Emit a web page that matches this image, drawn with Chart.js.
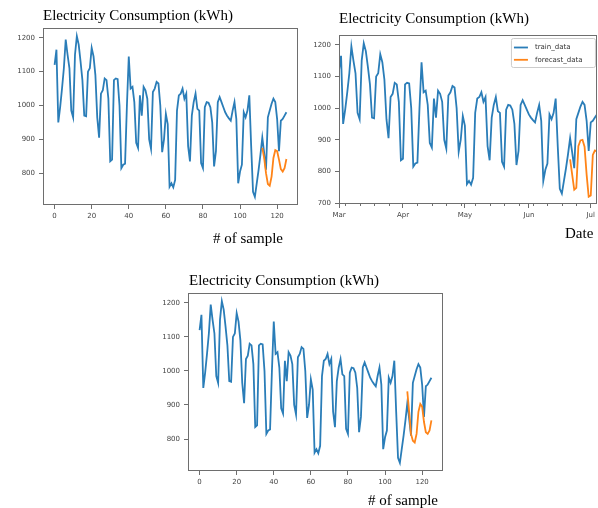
<!DOCTYPE html>
<html>
<head>
<meta charset="utf-8">
<script src="https://cdn.jsdelivr.net/npm/chart.js@4.4.1/dist/chart.umd.min.js"></script>
<style>
  html, body { margin: 0; padding: 0; background: #ffffff; }
  #wrap { position: relative; width: 598px; height: 508px; background: #ffffff; overflow: hidden; }
  .box { position: absolute; }
  .txt { position: absolute; font-family: "Liberation Serif", "Times New Roman", serif; font-size: 15px; line-height: 15px; color: #000; white-space: nowrap; }
</style>
</head>
<body>
<div id="wrap">
  <div class="box" style="left:0px;top:0px;width:300px;height:250px;"><canvas id="c1" width="300" height="250"></canvas></div>
  <div class="box" style="left:300px;top:0px;width:298px;height:250px;"><canvas id="c2" width="298" height="250"></canvas></div>
  <div class="box" style="left:150px;top:260px;width:300px;height:248px;"><canvas id="c3" width="300" height="248"></canvas></div>
  <div class="txt" id="t1" style="left:43px;top:8px;"></div>
  <div class="txt" id="t2" style="left:339px;top:11px;"></div>
  <div class="txt" id="t3" style="left:189px;top:273px;"></div>
  <div class="txt" id="x1" style="left:213px;top:231px;"></div>
  <div class="txt" id="x2" style="left:565px;top:226px;"></div>
  <div class="txt" id="x3" style="left:368px;top:493px;"></div>
</div>
<script>
// ---------------- data ----------------
const chartTitle = "Electricity Consumption (kWh)";
const sampleAxisLabel = "# of sample";
const dateAxisLabel = "Date";
const seriesNames = ["train_data", "forecast_data"];
const startDate = "2018-03-01";

const trainValues = [
  1120, 1165, 950, 995, 1050, 1110, 1195, 1150, 1110, 985,
  965, 1150, 1205, 1180, 1130, 1075, 970, 968, 1100, 1110,
  1170, 1145, 1090, 965, 905, 1035, 1045, 1080, 1075, 1020,
  835, 840, 1075, 1080, 1078, 1000, 815, 825, 828, 1000,
  1145, 1050, 1055, 1010, 890, 875, 1030, 970, 1055, 1045,
  1020, 900, 872, 1040, 1050, 1070, 1065, 1000, 862, 900,
  975, 945, 760, 770, 758, 780, 985, 1030, 1035, 1050,
  1020, 1035, 880, 835, 970, 1010, 1035, 990, 985, 830,
  815, 995, 1010, 1008, 995, 950, 820, 865, 1010, 1025,
  1010, 995, 980, 970, 962, 955, 985, 1010, 960, 770,
  805, 825, 980, 965, 985, 1030, 880, 745, 730, 770,
  810, 855, 905, 860, 810, 965, 985, 1005, 1020, 1010,
  960, 865, 955, 960, 970, 980
];
const forecastStart = 112;
const forecastTop = [875, 845, 800, 768, 763, 790, 845, 868, 865, 840, 812, 805, 815, 842];
const forecastDate = [838, 790, 742, 748, 880, 898, 900, 878, 790, 720, 724, 852, 866, 863];
const forecastBottom = [940, 880, 815, 795, 790, 815, 880, 903, 895, 850, 820, 815, 825, 855];

const sampleTicks = [0, 20, 40, 60, 80, 100, 120];
const yTicksSample = [800, 900, 1000, 1100, 1200];
const yTicksDate = [700, 800, 900, 1000, 1100, 1200];
const monthLabels = ["Mar", "Apr", "May", "Jun", "Jul"];

// ---------------- helpers ----------------
const BLUE = "#2a7db8", ORANGE = "#ff8418", AXIS = "#6e6e6e", TICKTXT = "#444444";
const DAY = 86400000;
const t0 = new Date(startDate + "T00:00:00Z").getTime();
function monthIndex(name) {
  const m = ["Jan","Feb","Mar","Apr","May","Jun","Jul","Aug","Sep","Oct","Nov","Dec"].indexOf(name);
  return Math.round((Date.UTC(2018, m, 1) - t0) / DAY);
}
const monthPos = monthLabels.map(monthIndex);
const weeklyPos = [];
for (let i = 0; i < trainValues.length; i++) {
  const d = new Date(t0 + i * DAY);
  if (d.getUTCDay() === 0) weeklyPos.push(i);
}

const trainPts = trainValues.map((v, i) => ({ x: i, y: v }));
const fc = arr => arr.map((v, k) => ({ x: forecastStart + k, y: v }));

const framePlugin = {
  id: "frame",
  afterDatasetsDraw(chart) {
    const a = chart.chartArea, ctx = chart.ctx;
    ctx.save();
    ctx.strokeStyle = AXIS;
    ctx.lineWidth = 1;
    ctx.strokeRect(Math.round(a.left) + 0.5, Math.round(a.top) + 0.5,
                   Math.round(a.right - a.left) - 1, Math.round(a.bottom - a.top) - 1);
    ctx.restore();
  }
};

function makeChart(id, forecast, opts) {
  const tickFont = { family: "DejaVu Sans", size: 7 };
  return new Chart(document.getElementById(id), {
    type: "line",
    data: {
      datasets: [
        { label: seriesNames[0], data: trainPts, borderColor: BLUE, borderWidth: 1.8, pointRadius: 0, tension: 0, order: 2 },
        { label: seriesNames[1], data: fc(forecast), borderColor: ORANGE, borderWidth: 1.8, pointRadius: 0, tension: 0, order: 1 }
      ]
    },
    options: {
      responsive: false,
      animation: false,
      devicePixelRatio: 1,
      parsing: true,
      layout: { padding: opts.padding },
      plugins: { legend: { display: false }, tooltip: { enabled: false }, title: { display: false } },
      scales: {
        x: {
          type: "linear",
          min: opts.xmin, max: opts.xmax,
          afterBuildTicks: s => { s.ticks = opts.xticks.map(v => ({ value: v })); },
          afterFit: s => { s.height = 20; },
          ticks: { font: tickFont, color: TICKTXT, padding: 3, maxRotation: 0, autoSkip: false,
                   callback: opts.xlabel },
          grid: { display: true, drawOnChartArea: false, drawTicks: true, tickLength: 4, color: AXIS, tickColor: AXIS },
          border: { display: false }
        },
        y: {
          type: "linear",
          min: opts.ymin, max: opts.ymax,
          afterBuildTicks: s => { s.ticks = opts.yticks.map(v => ({ value: v })); },
          afterFit: s => { s.width = opts.yw; },
          ticks: { font: tickFont, color: TICKTXT, padding: 4, callback: v => String(v) },
          grid: { display: true, drawOnChartArea: false, drawTicks: true, tickLength: 4, color: AXIS, tickColor: AXIS },
          border: { display: false }
        }
      }
    },
    plugins: [framePlugin].concat(opts.plugins || [])
  });
}

const legendPlugin = {
  id: "innerLegend",
  afterDraw(chart) {
    const a = chart.chartArea, ctx = chart.ctx;
    const w = 84, h = 29;
    const x = a.right - w - 2, y = a.top + 3;
    ctx.save();
    ctx.fillStyle = "rgba(255,255,255,0.85)";
    ctx.strokeStyle = "#cccccc";
    ctx.lineWidth = 1;
    ctx.beginPath();
    ctx.roundRect(x + 0.5, y + 0.5, w, h, 2);
    ctx.fill(); ctx.stroke();
    ctx.font = "7px 'DejaVu Sans'";
    ctx.textBaseline = "middle";
    chart.data.datasets.forEach((ds, k) => {
      const yy = y + 9.5 + k * 12.3;
      ctx.strokeStyle = ds.borderColor;
      ctx.lineWidth = 1.8;
      ctx.beginPath(); ctx.moveTo(x + 3, yy); ctx.lineTo(x + 17, yy); ctx.stroke();
      ctx.fillStyle = "#333333";
      ctx.fillText(ds.label, x + 24, yy);
    });
    ctx.restore();
  }
};

const minorTickPlugin = {
  id: "minorTicks",
  afterDraw(chart) {
    const xs = chart.scales.x, a = chart.chartArea, ctx = chart.ctx;
    ctx.save();
    ctx.strokeStyle = AXIS; ctx.lineWidth = 1;
    weeklyPos.forEach(p => {
      if (monthPos.includes(p)) return;
      const px = Math.round(xs.getPixelForValue(p)) + 0.5;
      ctx.beginPath(); ctx.moveTo(px, a.bottom); ctx.lineTo(px, a.bottom + 2); ctx.stroke();
    });
    ctx.restore();
  }
};

makeChart("c1", forecastTop, {
  padding: { left: 0, right: 2, top: 28, bottom: 25 },
  xmin: -6.25, xmax: 131.25, xticks: sampleTicks, xlabel: v => String(v),
  ymin: 706, ymax: 1229, yticks: yTicksSample, yw: 43
});

makeChart("c2", forecastDate, {
  padding: { left: 0, right: 1, top: 35, bottom: 26 },
  xmin: 0, xmax: trainValues.length - 1, xticks: monthPos,
  xlabel: v => monthLabels[monthPos.indexOf(v)] || "",
  ymin: 697, ymax: 1231, yticks: yTicksDate, yw: 39,
  plugins: [legendPlugin, minorTickPlugin]
});

makeChart("c3", forecastBottom, {
  padding: { left: 0, right: 7, top: 33, bottom: 17 },
  xmin: -6.25, xmax: 131.25, xticks: sampleTicks, xlabel: v => String(v),
  ymin: 706, ymax: 1229, yticks: yTicksSample, yw: 38
});

document.getElementById("t1").textContent = chartTitle;
document.getElementById("t2").textContent = chartTitle;
document.getElementById("t3").textContent = chartTitle;
document.getElementById("x1").textContent = sampleAxisLabel;
document.getElementById("x2").textContent = dateAxisLabel;
document.getElementById("x3").textContent = sampleAxisLabel;
</script>
</body>
</html>
